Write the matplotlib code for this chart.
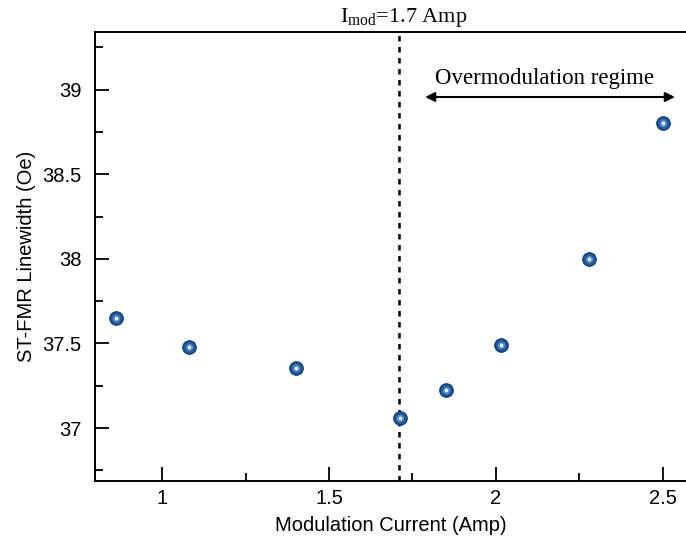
import numpy as np
import matplotlib.pyplot as plt
from matplotlib.ticker import MultipleLocator

plt.rcParams['mathtext.fontset'] = 'custom'
plt.rcParams['mathtext.rm'] = 'Liberation Serif'

# data
current = [0.862, 1.080, 1.402, 1.712, 1.850, 2.015, 2.280, 2.502]
linewidth = [37.648, 37.477, 37.358, 37.059, 37.224, 37.490, 38.000, 38.806]
i_mod = 1.71

fig = plt.figure(figsize=(6.86, 5.46), dpi=100)
ax = fig.add_axes([0.139, 0.119, 0.861, 0.822])

# vertical marker at I_mod
ax.axvline(i_mod, color='black', linestyle=(0, (2.2, 2.2)), linewidth=1.8, zorder=1)

# fake shaded spheres by stacking markers
ax.plot(current, linewidth, 'o', ms=10, color='#14457f', mec='#103a6c', mew=0.5, zorder=3)
ax.plot(current, linewidth, 'o', ms=8, color='#2260a6', mew=0, zorder=4)
ax.plot(current, linewidth, 'o', ms=5, color='#5f8fcb', mew=0, zorder=5)
ax.plot(current, linewidth, 'o', ms=2.6, color='#eef3fb', mew=0, zorder=6)

ax.set_xlim(0.8, 2.57)
ax.set_ylim(36.687, 39.34)
ax.xaxis.set_minor_locator(MultipleLocator(0.25))
ax.yaxis.set_minor_locator(MultipleLocator(0.25))
ax.set_xticks([1, 1.5, 2, 2.5])
ax.set_xticklabels(['1', '1.5', '2', '2.5'])
ax.set_yticks([37, 37.5, 38, 38.5, 39])
ax.set_yticklabels(['37', '37.5', '38', '38.5', '39'])

ax.tick_params(which='major', direction='in', length=10, width=1.3, labelsize=14.5)
ax.tick_params(axis='x', which='major', pad=6)
ax.tick_params(axis='y', which='major', pad=10)
ax.tick_params(which='minor', direction='in', length=6, width=1.3)
ax.tick_params(top=False, right=False, which='both')
for lab in ax.get_xticklabels() + ax.get_yticklabels():
    lab.set_family('Liberation Sans')
for s in ['left', 'bottom', 'top']:
    ax.spines[s].set_linewidth(1.4)
ax.spines['right'].set_visible(False)

ax.set_xlabel('Modulation Current (Amp)', family='Liberation Sans', fontsize=14.5)
ax.set_ylabel('ST-FMR Linewidth (Oe)', family='Liberation Sans', fontsize=14.5)
ax.xaxis.set_label_coords(0.5, -0.077)
ax.yaxis.set_label_coords(-0.101, 0.5)

# annotations
ax.text(1.724, 39.36, r'I$_{\rm mod}$=1.7 Amp', family='Liberation Serif', fontsize=16,
        ha='center', va='bottom')
ax.annotate('', xy=(1.78, 38.957), xytext=(2.545, 38.957),
            arrowprops=dict(arrowstyle='<|-|>', color='black', lw=1.5, mutation_scale=14))
ax.text(2.147, 39.065, 'Overmodulation regime', family='Liberation Serif', fontsize=16.5,
        ha='center', va='center')

fig.savefig('out.png', dpi=100)
